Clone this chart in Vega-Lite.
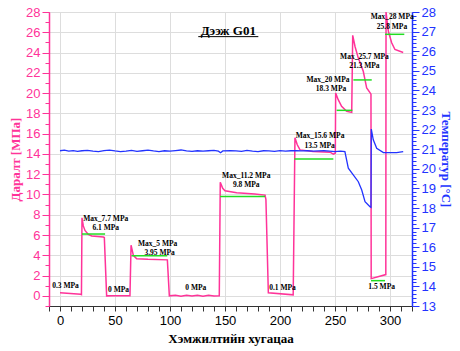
{
  "$schema": "https://vega.github.io/schema/vega-lite/v6.json",
  "width": 363,
  "height": 294,
  "autosize": {"type": "none"},
  "padding": {"left": 49, "top": 12, "right": 48, "bottom": 45},
  "background": "white",
  "config": {
    "view": {"stroke": "#555555", "strokeWidth": 1},
    "axis": {
      "labelFont": "Liberation Sans",
      "titleFont": "Liberation Serif",
      "titleFontSize": 13,
      "titleFontWeight": "bold",
      "labelOverlap": false,
      "labelFlush": false,
      "gridColor": "#dddddd",
      "gridWidth": 1
    }
  },
  "datasets": {
    "pressure": [
      {"t": 0, "p": 0.3}, {"t": 18.8, "p": 0.15}, {"t": 19.5, "p": 0.12},
      {"t": 20, "p": 7.7}, {"t": 21.2, "p": 6.9}, {"t": 22.7, "p": 6.45},
      {"t": 25.7, "p": 6.06}, {"t": 28.8, "p": 5.9}, {"t": 39.4, "p": 5.8},
      {"t": 40.3, "p": 5.75}, {"t": 42.4, "p": 0.0}, {"t": 48, "p": 0.02},
      {"t": 55, "p": 0.0}, {"t": 63.6, "p": 0.02}, {"t": 64.6, "p": 5.0},
      {"t": 66.7, "p": 4.0}, {"t": 69.7, "p": 3.67}, {"t": 80, "p": 3.6},
      {"t": 97.6, "p": 3.55}, {"t": 99.4, "p": 0.0}, {"t": 105, "p": 0.05},
      {"t": 110, "p": -0.03}, {"t": 115, "p": 0.06}, {"t": 120, "p": -0.02},
      {"t": 125, "p": 0.05}, {"t": 130, "p": -0.03}, {"t": 135, "p": 0.05},
      {"t": 140, "p": -0.02}, {"t": 144.8, "p": 0.0}, {"t": 145.7, "p": 11.2},
      {"t": 147.9, "p": 10.6}, {"t": 150, "p": 10.37}, {"t": 160.6, "p": 10.17},
      {"t": 177, "p": 10.04}, {"t": 186.4, "p": 9.94}, {"t": 187.2, "p": 9.5},
      {"t": 189.4, "p": 0.3}, {"t": 212, "p": 0.1}, {"t": 213.6, "p": 15.6},
      {"t": 215.7, "p": 14.9}, {"t": 218.2, "p": 14.4}, {"t": 230, "p": 14.25},
      {"t": 245.5, "p": 14.17}, {"t": 248.5, "p": 13.97}, {"t": 250.3, "p": 14.07},
      {"t": 250.6, "p": 20.0}, {"t": 252.9, "p": 19.35}, {"t": 256, "p": 18.7},
      {"t": 260.6, "p": 18.2}, {"t": 265.2, "p": 18.1}, {"t": 266.1, "p": 25.7},
      {"t": 268.2, "p": 24.6}, {"t": 271.2, "p": 23.45}, {"t": 275.7, "p": 22.15},
      {"t": 278.8, "p": 20.5}, {"t": 281.8, "p": 20.05}, {"t": 282.7, "p": 19.9},
      {"t": 282.9, "p": 1.7}, {"t": 296.2, "p": 2.1}, {"t": 296.4, "p": 28.0},
      {"t": 298.5, "p": 26.1}, {"t": 301.5, "p": 24.97}, {"t": 304.5, "p": 24.3},
      {"t": 312, "p": 24.0}
    ],
    "temperature": [
      {"t": 0, "c": 20.92}, {"t": 4, "c": 20.95}, {"t": 8, "c": 20.9}, {"t": 12, "c": 20.93},
      {"t": 16, "c": 20.89}, {"t": 20, "c": 20.92}, {"t": 25, "c": 20.94}, {"t": 30, "c": 20.9},
      {"t": 35, "c": 20.88}, {"t": 40, "c": 20.93}, {"t": 45, "c": 20.95}, {"t": 50, "c": 20.91},
      {"t": 55, "c": 20.88}, {"t": 60, "c": 20.9}, {"t": 65, "c": 20.94}, {"t": 70, "c": 20.89},
      {"t": 75, "c": 20.92}, {"t": 80, "c": 20.95}, {"t": 85, "c": 20.91}, {"t": 90, "c": 20.88},
      {"t": 95, "c": 20.92}, {"t": 100, "c": 20.9}, {"t": 105, "c": 20.93}, {"t": 110, "c": 20.96},
      {"t": 115, "c": 20.91}, {"t": 120, "c": 20.89}, {"t": 125, "c": 20.92}, {"t": 130, "c": 20.9},
      {"t": 135, "c": 20.92}, {"t": 140, "c": 20.94}, {"t": 144, "c": 20.9}, {"t": 146, "c": 20.82},
      {"t": 148, "c": 20.91}, {"t": 155, "c": 20.93}, {"t": 160, "c": 20.91}, {"t": 165, "c": 20.89},
      {"t": 170, "c": 20.94}, {"t": 175, "c": 20.9}, {"t": 180, "c": 20.88}, {"t": 185, "c": 20.92},
      {"t": 190, "c": 20.91}, {"t": 195, "c": 20.89}, {"t": 200, "c": 20.93}, {"t": 205, "c": 20.9},
      {"t": 210, "c": 20.92}, {"t": 215, "c": 20.93}, {"t": 220, "c": 20.91}, {"t": 225, "c": 20.92},
      {"t": 230, "c": 20.9}, {"t": 235, "c": 20.91}, {"t": 240, "c": 20.92}, {"t": 245, "c": 20.9},
      {"t": 250, "c": 20.88}, {"t": 255, "c": 20.9}, {"t": 259, "c": 20.88}, {"t": 262.1, "c": 20.03},
      {"t": 266.6, "c": 19.69}, {"t": 271.2, "c": 19.34}, {"t": 274.3, "c": 18.92}, {"t": 277.3, "c": 18.32},
      {"t": 281.8, "c": 18.06}, {"t": 282.7, "c": 18.03}, {"t": 283, "c": 22.03}, {"t": 284.8, "c": 21.48},
      {"t": 287.9, "c": 21.05}, {"t": 294, "c": 20.83}, {"t": 306, "c": 20.83}, {"t": 312, "c": 20.88}
    ],
    "levels": [
      {"t1": 20, "t2": 41, "p": 6.1},
      {"t1": 65, "t2": 97.5, "p": 3.95},
      {"t1": 145.5, "t2": 186.4, "p": 9.8},
      {"t1": 213, "t2": 248.5, "p": 13.5},
      {"t1": 251.5, "t2": 265.8, "p": 18.3},
      {"t1": 266.7, "t2": 283.4, "p": 21.3},
      {"t1": 282.7, "t2": 295.5, "p": 1.5},
      {"t1": 295.5, "t2": 313, "p": 25.8}
    ],
    "notes": [
      {"t": 5, "p": 0.95, "label": "0.3 MPa"},
      {"t": 41.6, "p": 7.56, "label": "Max_7.7 MPa"},
      {"t": 41.6, "p": 6.7, "label": "6.1 MPa"},
      {"t": 53.2, "p": 0.62, "label": "0 MPa"},
      {"t": 88.8, "p": 5.15, "label": "Max_5 MPa"},
      {"t": 90.6, "p": 4.22, "label": "3.95 MPa"},
      {"t": 123.5, "p": 0.75, "label": "0 MPa"},
      {"t": 169.3, "p": 11.82, "label": "Max_11.2 MPa"},
      {"t": 169.3, "p": 10.93, "label": "9.8 MPa"},
      {"t": 202.3, "p": 0.79, "label": "0.1 MPa"},
      {"t": 236.4, "p": 15.72, "label": "Max_15.6 MPa"},
      {"t": 236, "p": 14.8, "label": "13.5 MPa"},
      {"t": 243.6, "p": 21.27, "label": "Max_20 MPa"},
      {"t": 246.4, "p": 20.42, "label": "18.3 MPa"},
      {"t": 276.8, "p": 23.58, "label": "Max_25.7 MPa"},
      {"t": 276.7, "p": 22.72, "label": "21.3 MPa"},
      {"t": 302, "p": 27.54, "label": "Max_28 MPa"},
      {"t": 301.8, "p": 26.55, "label": "25.8 MPa"},
      {"t": 292.4, "p": 0.92, "label": "1.5 MPa"}
    ],
    "heading": [
      {"t": 153, "p": 26.1, "label": "Дээж G01", "t1": 125.7, "t2": 180.3, "u": 25.57}
    ]
  },
  "layer": [
    {
      "encoding": {
        "x": {
          "type": "quantitative",
          "scale": {"domain": [-10, 320], "nice": false, "zero": false},
          "axis": {
            "title": "Хэмжилтийн хугацаа",
            "titleColor": "#000000",
            "titlePadding": 5,
            "labelColor": "#000000",
            "labelOverlap": false,
            "labelFlush": false,
            "format": "d",
            "domainColor": "#333333",
            "tickColor": "#333333",
            "tickSize": 5,
            "labelPadding": 3,
            "tickCount": 500,
            "values": [-10, 0, 10, 20, 30, 40, 50, 60, 70, 80, 90, 100, 110, 120, 130, 140, 150, 160, 170, 180, 190, 200, 210, 220, 230, 240, 250, 260, 270, 280, 290, 300, 310, 320],
            "labelExpr": "datum.value % 50 === 0 ? datum.label : ''",
            "labelFontSize": 13,
            "grid": true,
            "gridOpacity": {"condition": {"test": "datum.value % 50 === 0", "value": 1}, "value": 0}
          }
        },
        "y": {
          "type": "quantitative",
          "scale": {"domain": [-1, 28], "nice": false, "zero": false},
          "axis": {
            "title": "Даралт [МПа]",
            "titleColor": "#ff3399",
            "titlePadding": 3,
            "labelColor": "#ff3399",
            "labelOverlap": false,
            "format": "d",
            "domainColor": "#ff3399",
            "domainWidth": 1.5,
            "tickColor": "#ff3399",
            "labelPadding": 2,
            "tickCount": 500,
            "values": [-1, -0.5, 0, 0.5, 1, 1.5, 2, 2.5, 3, 3.5, 4, 4.5, 5, 5.5, 6, 6.5, 7, 7.5, 8, 8.5, 9, 9.5, 10, 10.5, 11, 11.5, 12, 12.5, 13, 13.5, 14, 14.5, 15, 15.5, 16, 16.5, 17, 17.5, 18, 18.5, 19, 19.5, 20, 20.5, 21, 21.5, 22, 22.5, 23, 23.5, 24, 24.5, 25, 25.5, 26, 26.5, 27, 27.5, 28],
            "labelExpr": "datum.value % 2 === 0 ? datum.label : ''",
            "labelFontSize": 13,
            "tickSize": {"condition": {"test": "datum.value % 2 === 0", "value": 7}, "value": 4},
            "grid": true,
            "gridOpacity": {"condition": {"test": "datum.value % 2 === 0", "value": 1}, "value": 0}
          }
        }
      },
      "layer": [
        {
          "data": {"name": "pressure"},
          "mark": {"type": "line", "color": "#ff3399", "strokeWidth": 1.5, "clip": false},
          "encoding": {
            "x": {"field": "t"},
            "y": {"field": "p"},
            "order": {"field": "t", "type": "quantitative"}
          }
        },
        {
          "data": {"name": "levels"},
          "mark": {"type": "rule", "color": "#22dd22", "strokeWidth": 1.5},
          "encoding": {
            "x": {"field": "t1"},
            "x2": {"field": "t2"},
            "y": {"field": "p"}
          }
        },
        {
          "data": {"name": "notes"},
          "mark": {"type": "text", "font": "Liberation Serif", "fontWeight": "bold", "fontSize": 7.5, "color": "#000000", "align": "center", "baseline": "middle"},
          "encoding": {
            "x": {"field": "t"},
            "y": {"field": "p"},
            "text": {"field": "label"}
          }
        },
        {
          "data": {"name": "heading"},
          "mark": {"type": "text", "font": "Liberation Serif", "fontWeight": "bold", "fontSize": 13, "color": "#000000", "align": "center", "baseline": "middle"},
          "encoding": {
            "x": {"field": "t"},
            "y": {"field": "p"},
            "text": {"field": "label"}
          }
        },
        {
          "data": {"name": "heading"},
          "mark": {"type": "rule", "color": "#000000", "strokeWidth": 1},
          "encoding": {
            "x": {"field": "t1"},
            "x2": {"field": "t2"},
            "y": {"field": "u"}
          }
        }
      ]
    },
    {
      "data": {"name": "temperature"},
      "mark": {"type": "line", "color": "#2233ff", "strokeWidth": 1.3},
      "encoding": {
        "x": {"field": "t", "type": "quantitative"},
        "y": {
          "field": "c",
          "type": "quantitative",
          "scale": {"domain": [13, 28], "nice": false, "zero": false},
          "axis": {
            "orient": "right",
            "title": "Температур [°C]",
            "titleColor": "#2233ff",
            "titlePadding": 3,
            "labelColor": "#2233ff",
            "labelOverlap": false,
            "domainColor": "#2233ff",
            "domainWidth": 1.5,
            "tickColor": "#2233ff",
            "labelPadding": 2,
            "grid": false,
            "tickCount": 500,
            "values": [13, 13.2, 13.4, 13.6, 13.8, 14, 14.2, 14.4, 14.6, 14.8, 15, 15.2, 15.4, 15.6, 15.8, 16, 16.2, 16.4, 16.6, 16.8, 17, 17.2, 17.4, 17.6, 17.8, 18, 18.2, 18.4, 18.6, 18.8, 19, 19.2, 19.4, 19.6, 19.8, 20, 20.2, 20.4, 20.6, 20.8, 21, 21.2, 21.4, 21.6, 21.8, 22, 22.2, 22.4, 22.6, 22.8, 23, 23.2, 23.4, 23.6, 23.8, 24, 24.2, 24.4, 24.6, 24.8, 25, 25.2, 25.4, 25.6, 25.8, 26, 26.2, 26.4, 26.6, 26.8, 27, 27.2, 27.4, 27.6, 27.8, 28],
            "labelExpr": "abs(datum.value - round(datum.value)) < 0.001 ? format(datum.value, 'd') : ''",
            "labelFontSize": 13,
            "tickSize": {"condition": {"test": "abs(datum.value - round(datum.value)) < 0.001", "value": 7}, "value": 4}
          }
        }
      }
    }
  ],
  "resolve": {"scale": {"y": "independent"}}
}
